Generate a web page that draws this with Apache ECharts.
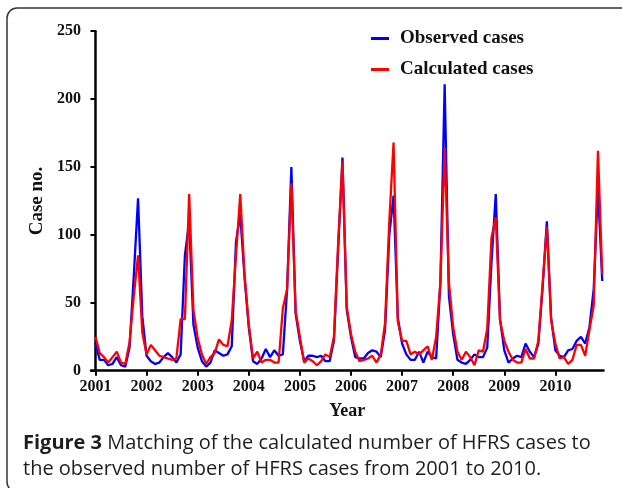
<!DOCTYPE html>
<html>
<head>
<meta charset="utf-8">
<script src="https://cdn.jsdelivr.net/npm/echarts@6/dist/echarts.min.js"></script>
<style>
html,body{margin:0;padding:0;background:#fff;}
#c{width:622px;height:488px;}
</style>
</head>
<body>
<div id="c"></div>
<script>
// Monthly data, Jan 2001 .. Dec 2010
const years = ['2001','2002','2003','2004','2005','2006','2007','2008','2009','2010'];
const observed = [
  20, 8, 8, 4, 5, 10, 4, 3, 17, 70, 127, 40,
  11, 7, 5, 6, 10, 13, 10, 6, 12, 85, 110, 34,
  17, 7, 3, 6, 15, 13, 11, 12, 18, 95, 115, 69,
  32, 7, 5, 9, 16, 10, 15, 11, 12, 60, 150, 42,
  22, 7, 11, 11, 10, 11, 7, 7, 22, 90, 157, 45,
  25, 10, 9, 9, 13, 15, 14, 10, 30, 100, 129, 39,
  20, 12, 8, 8, 14, 6, 14, 10, 9, 65, 211, 55,
  27, 8, 6, 5, 8, 12, 10, 10, 17, 80, 130, 38,
  15, 6, 9, 11, 10, 20, 14, 10, 20, 61, 110, 39,
  15, 11, 10, 15, 16, 22, 25, 20, 32, 60, 135, 66
];
const calculated = [
  25, 13, 10, 6, 10, 14, 6, 5, 21, 55, 85, 28,
  12, 19, 15, 11, 10, 9, 8, 9, 38, 38, 130, 45,
  24, 12, 5, 10, 13, 23, 19, 18, 37, 85, 130, 71,
  34, 9, 14, 6, 8, 8, 6, 6, 46, 60, 138, 44,
  25, 6, 9, 7, 4, 7, 12, 10, 25, 95, 154, 47,
  27, 14, 7, 8, 9, 11, 6, 12, 35, 110, 168, 36,
  22, 22, 12, 14, 12, 15, 18, 8, 25, 65, 164, 65,
  32, 14, 8, 14, 10, 4, 15, 14, 31, 98, 113, 37,
  22, 14, 8, 6, 6, 16, 9, 9, 22, 64, 106, 37,
  20, 9, 10, 5, 8, 19, 19, 11, 30, 48, 162, 71
];
const yTicks = [0, 50, 100, 150, 200, 250];

const tickIdx = years.map((y, k) => k * 12);
const serif = '"Liberation Serif", "Times New Roman", serif';
const sans = '"Open Sans", sans-serif';
const chart = echarts.init(document.getElementById('c'), null, {renderer: 'canvas'});
chart.setOption({
  animation: false,
  backgroundColor: '#fff',
  grid: {left: 91, right: 18.5, top: 31.2, bottom: 117.3, containLabel: false},
  legend: {
    orient: 'vertical', left: 366, top: 24, itemGap: 12,
    itemWidth: 18, itemHeight: 3, icon: 'rect',
    textStyle: {fontFamily: serif, fontWeight: 'bold', fontSize: 19, color: '#111', padding: [0,0,0,6]},
    data: ['Observed cases', 'Calculated cases']
  },
  xAxis: {
    type: 'value', min: -1.05, max: 119.3,
    splitLine: {show: false},
    axisLine: {show: true, onZero: false, lineStyle: {color: '#000', width: 2.5}},
    axisTick: {show: true, length: 5, customValues: tickIdx, lineStyle: {color: '#000', width: 2}},
    axisLabel: {
      customValues: tickIdx, margin: 8,
      formatter: v => years[Math.round(v / 12)],
      fontFamily: serif, fontWeight: 'bold', fontSize: 16, color: '#111'
    },
    name: 'Year', nameLocation: 'middle', nameGap: 32,
    nameTextStyle: {fontFamily: serif, fontWeight: 'bold', fontSize: 18, color: '#111'}
  },
  yAxis: {
    type: 'value', min: 0, max: 250, interval: 50,
    splitLine: {show: false},
    axisLine: {show: true, lineStyle: {color: '#000', width: 2.5}},
    axisTick: {show: true, length: 5, lineStyle: {color: '#000', width: 2}},
    axisLabel: {margin: 10, fontFamily: serif, fontWeight: 'bold', fontSize: 16, color: '#111',
      formatter: v => yTicks.includes(v) ? String(v) : ''},
    name: 'Case no.', nameLocation: 'middle', nameGap: 44,
    nameTextStyle: {fontFamily: serif, fontWeight: 'bold', fontSize: 19, color: '#111'}
  },
  series: [
    {name: 'Observed cases', type: 'line', symbol: 'none', color: '#0000ff',
     lineStyle: {width: 2.3, color: '#0000ff'},
     data: observed.map((v, i) => [i, v])},
    {name: 'Calculated cases', type: 'line', symbol: 'none', color: '#ff0000',
     lineStyle: {width: 2.3, color: '#ff0000'},
     data: calculated.map((v, i) => [i, v])}
  ],
  graphic: [
    {type: 'rect', shape: {x: 7, y: 8, width: 660, height: 484, r: 10},
     style: {fill: 'none', stroke: '#333', lineWidth: 1.5}, silent: true},
    {type: 'text', left: 23, top: 433,
     style: {text: '{b|Figure 3} Matching of the calculated number of HFRS cases to',
       font: '20px ' + sans, fill: '#1e1e1e',
       rich: {b: {fontWeight: 'bold', fontFamily: sans, fontSize: 20, fill: '#1e1e1e'}}}},
    {type: 'text', left: 23, top: 459,
     style: {text: 'the observed number of HFRS cases from 2001 to 2010.',
       font: '20px ' + sans, fill: '#1e1e1e'}}
  ]
});
</script>
</body>
</html>
